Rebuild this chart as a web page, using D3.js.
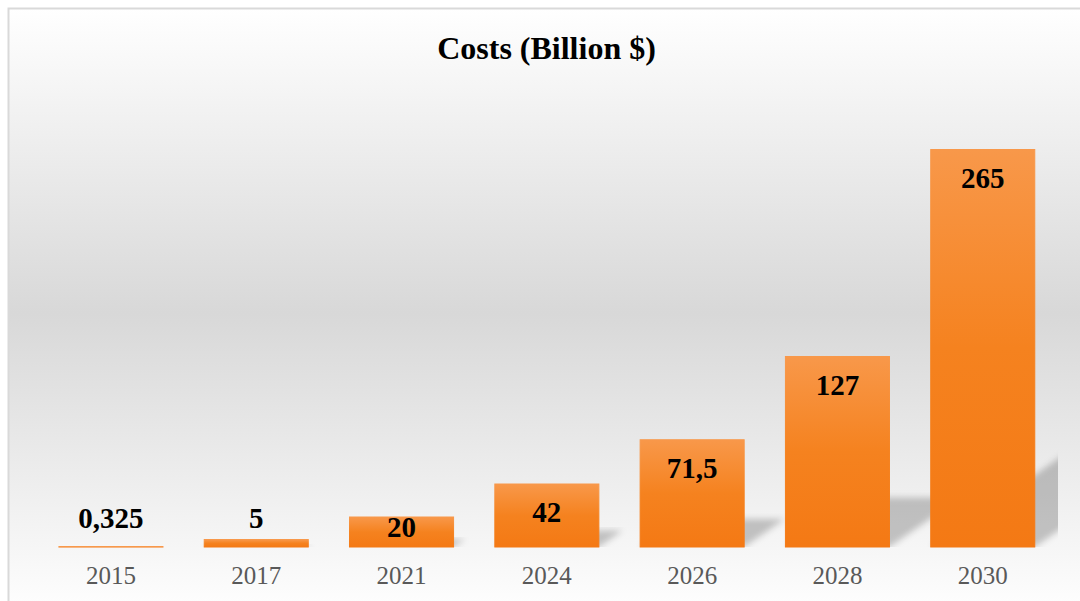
<!DOCTYPE html>
<html>
<head>
<meta charset="utf-8">
<script src="https://cdn.jsdelivr.net/npm/d3@7"></script>
<style>
  html, body { margin: 0; padding: 0; background: #ffffff; }
  svg { display: block; }
</style>
</head>
<body>
<svg id="chart" width="1080" height="601"></svg>
<script>
// Yearly costs, in billions of dollars
const years = ["2015", "2017", "2021", "2024", "2026", "2028", "2030"];
const costs = [0.325, 5, 20, 42, 71.5, 127, 265];
const valueLabels = ["0,325", "5", "20", "42", "71,5", "127", "265"];
const chartTitle = "Costs (Billion $)";
const axisMax = 300;

const W = 1080, H = 601;
const svg = d3.select("#chart");
const defs = svg.append("defs");

// Chart-area fill: light at the edges, grey through the middle
const bg = defs.append("linearGradient")
  .attr("id", "bgGrad").attr("x1", 0).attr("y1", 0).attr("x2", 0).attr("y2", 1);
bg.append("stop").attr("offset", "0%").attr("stop-color", "#ffffff");
bg.append("stop").attr("offset", "50%").attr("stop-color", "#d8d8d8");
bg.append("stop").attr("offset", "100%").attr("stop-color", "#ffffff");

// Bar fill: light orange at the top, deeper orange at the base
const barGrad = defs.append("linearGradient")
  .attr("id", "barGrad").attr("x1", 0).attr("y1", 0).attr("x2", 0).attr("y2", 1);
barGrad.append("stop").attr("offset", "0%").attr("stop-color", "#f8984a");
barGrad.append("stop").attr("offset", "50%").attr("stop-color", "#f5821f");
barGrad.append("stop").attr("offset", "100%").attr("stop-color", "#f47914");

// Soft blur for the cast shadows
defs.append("filter").attr("id", "shadowBlur")
  .attr("x", "-20%").attr("y", "-20%").attr("width", "140%").attr("height", "140%")
  .append("feGaussianBlur").attr("stdDeviation", 3);

// Chart area with border
svg.append("rect")
  .attr("x", 8.5).attr("y", 8.5)
  .attr("width", 1085).attr("height", 610)
  .attr("fill", "url(#bgGrad)")
  .attr("stroke", "#d9d9d9").attr("stroke-width", 2);

// Title
svg.append("text")
  .attr("x", 546.5).attr("y", 59)
  .attr("text-anchor", "middle")
  .attr("font-family", "'Liberation Serif', 'Times New Roman', serif")
  .attr("font-weight", "bold")
  .attr("font-size", 32)
  .attr("fill", "#000000")
  .text(chartTitle);

// Scales
const x = d3.scaleBand()
  .domain(years)
  .range([38.3, 1055.4])
  .paddingInner(0.284)
  .paddingOuter(0.142);

const y = d3.scaleLinear()
  .domain([0, axisMax])
  .range([547, 97]);

const data = years.map((yr, i) => ({ year: yr, value: costs[i], label: valueLabels[i] }));

// Plot-area clip for the shadows
defs.append("clipPath").attr("id", "plotClip")
  .append("rect").attr("x", 38).attr("y", 60).attr("width", 1020).attr("height", 487);

// Perspective shadows falling back to the upper right of each bar
const shadowLayer = svg.append("g").attr("clip-path", "url(#plotClip)");
shadowLayer.selectAll("polygon")
  .data(data)
  .join("polygon")
  .attr("points", d => {
    const x0 = x(d.year), x1 = x0 + x.bandwidth();
    const yb = y(0), h = y(0) - y(d.value);
    const sh = 0.26 * h, shift = 0.375 * h;
    return [[x0, yb], [x1, yb], [x1 + shift, yb - sh], [x0 + shift, yb - sh]]
      .map(p => p.join(",")).join(" ");
  })
  .attr("fill", "#000000")
  .attr("fill-opacity", 0.21)
  .attr("filter", "url(#shadowBlur)");

// Bars (a thin outline in the same gradient keeps the shortest bar visible)
svg.append("g").selectAll("rect")
  .data(data)
  .join("rect")
  .attr("x", d => x(d.year))
  .attr("y", d => y(d.value))
  .attr("width", x.bandwidth())
  .attr("height", d => y(0) - y(d.value))
  .attr("fill", "url(#barGrad)")
  .attr("stroke", "url(#barGrad)")
  .attr("stroke-width", 1);

// Value labels: inside the top of the bar, lifted clear of very short bars
function labelBaseline(v) {
  const top = y(v), h = y(0) - top;
  if (h < 20) return y(0) - 19;
  return Math.min(top + 38, y(0) - 10);
}
svg.append("g").selectAll("text")
  .data(data)
  .join("text")
  .attr("x", d => x(d.year) + x.bandwidth() / 2)
  .attr("y", d => labelBaseline(d.value))
  .attr("text-anchor", "middle")
  .attr("font-family", "'Liberation Serif', 'Times New Roman', serif")
  .attr("font-weight", "bold")
  .attr("font-size", 29)
  .attr("fill", "#000000")
  .text(d => d.label);

// Category axis
const xAxis = svg.append("g")
  .attr("transform", `translate(0, ${y(0)})`)
  .call(d3.axisBottom(x).tickSize(0).tickPadding(0));
xAxis.select(".domain").remove();
xAxis.selectAll("text")
  .attr("dy", null)
  .attr("y", 37)
  .attr("font-family", "'Liberation Serif', 'Times New Roman', serif")
  .attr("font-size", 25)
  .attr("fill", "#595959");
</script>
</body>
</html>
